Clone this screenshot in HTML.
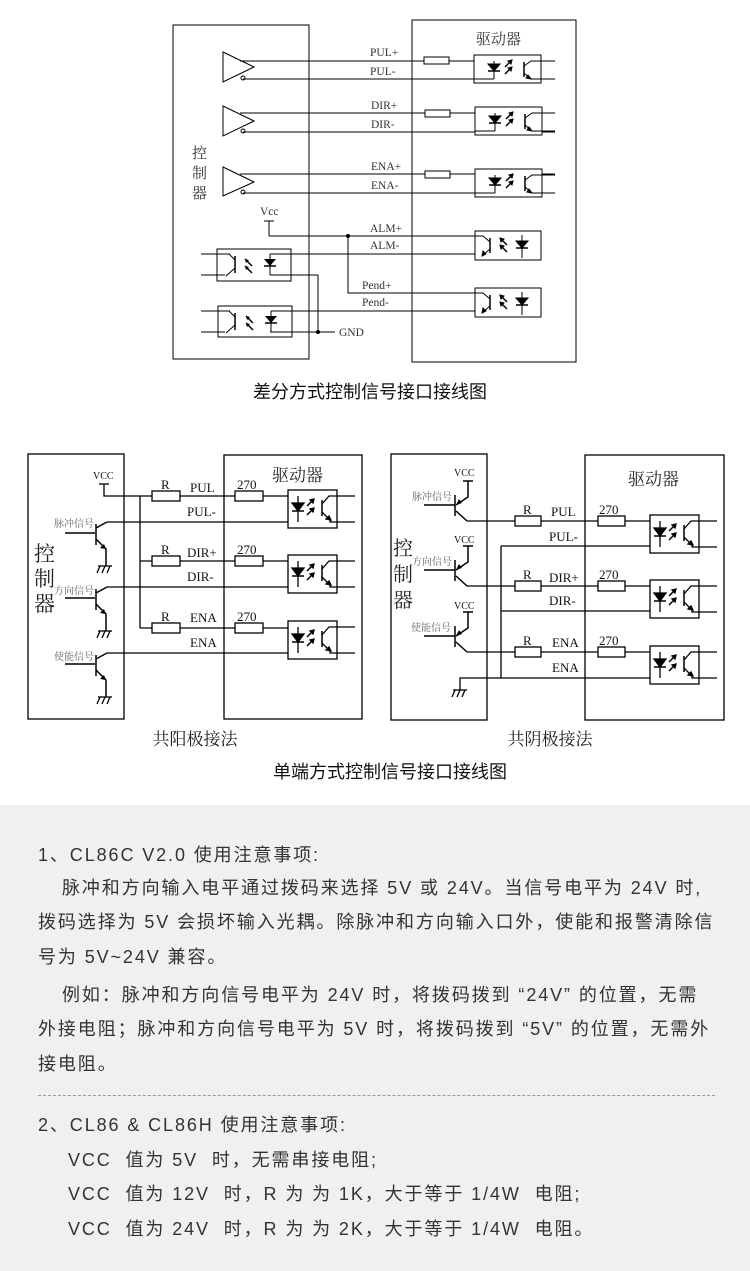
<!DOCTYPE html>
<html><head><meta charset="utf-8">
<style>
html,body{margin:0;padding:0;background:#fff;}
body{width:750px;height:1271px;position:relative;overflow:hidden;font-family:"Liberation Sans","Noto Sans CJK SC",sans-serif;}
svg{position:absolute;left:0;top:0;}
.t{position:absolute;font-size:18px;color:#333;white-space:nowrap;line-height:24px;letter-spacing:1.9px;font-family:"Liberation Sans","Noto Sans CJK SC",sans-serif;}
</style></head><body>
<svg width="750" height="805" viewBox="0 0 750 805">
<defs>
<g id="arr"><line x1="0" y1="8" x2="7" y2="1" stroke="#000" stroke-width="1.5"/><path d="M7,1 l-4,1 l3,3z" fill="#000"/></g>
<g id="arrL"><line x1="7" y1="8" x2="0" y2="1" stroke="#000" stroke-width="1.5"/><path d="M0,1 l4,1 l-3,3z" fill="#000"/></g>
<g id="optA" fill="none" stroke="#000" stroke-width="1">
<rect x="0" y="0" width="67" height="28"/>
<line x1="20" y1="6" x2="20" y2="24"/><line x1="0" y1="24" x2="20" y2="24"/>
<path d="M14,9 L26,9 L20,16z" fill="#000"/><line x1="14" y1="16" x2="26" y2="16" stroke-width="1.5"/>
<use href="#arr" x="31" y="4"/><use href="#arr" x="31" y="11"/>
<line x1="50" y1="7" x2="50" y2="22" stroke-width="1.5"/>
<path d="M50,11 L57,6 L80,6"/><path d="M50,18 L57,24 L80,24"/><path d="M57,24 l-5,-1 l2,-3z" fill="#000"/>
</g>
<g id="optB" fill="none" stroke="#000" stroke-width="1">
<rect x="0" y="0" width="66" height="29"/>
<line x1="15" y1="7" x2="15" y2="22" stroke-width="1.5"/>
<path d="M15,11 L8,5 L0,5"/><path d="M15,18 L8,24"/><path d="M7,25 l1,-5 l3,3z" fill="#000"/>
<use href="#arrL" x="25" y="6"/><use href="#arrL" x="25" y="13"/>
<line x1="47" y1="4" x2="47" y2="27"/>
<path d="M41,10 L53,10 L47,17z" fill="#000"/><line x1="41" y1="17" x2="53" y2="17" stroke-width="1.5"/>
</g>
<g id="optC" fill="none" stroke="#000" stroke-width="1.3">
<rect x="0" y="0" width="49" height="38"/>
<line x1="10" y1="6" x2="10" y2="32"/>
<path d="M4,13 L16,13 L10,21z" fill="#000"/><line x1="4" y1="21" x2="16" y2="21" stroke-width="1.5"/>
<use href="#arr" x="19" y="8"/><use href="#arr" x="19" y="17"/>
<line x1="34" y1="10" x2="34" y2="26" stroke-width="1.5"/>
<path d="M34,14 L41,6 L67,6"/><path d="M34,22 L42,30 L42,32 L67,32"/><path d="M43,30 l-5,-1 l3,-3z" fill="#000"/>
</g>
<g id="gnd" stroke="#000" stroke-width="1.3" fill="none"><line x1="-7" y1="0" x2="7" y2="0"/><line x1="-5" y1="0" x2="-8" y2="7"/><line x1="0" y1="0" x2="-3" y2="7"/><line x1="5" y1="0" x2="2" y2="7"/></g>
</defs>

<g fill="none" stroke="#000" stroke-width="1">
<rect x="173" y="25" width="136" height="334"/>
<rect x="412" y="20" width="164" height="342"/>
</g>
<g font-family="Liberation Serif,serif" font-size="12" fill="#333">
<text x="476" y="44" font-size="15" font-family="Liberation Serif,Noto Serif CJK SC,serif">驱动器</text>
<text x="192" y="158" font-size="15" font-family="Liberation Serif,Noto Serif CJK SC,serif">控</text>
<text x="192" y="178" font-size="15" font-family="Liberation Serif,Noto Serif CJK SC,serif">制</text>
<text x="192" y="198" font-size="15" font-family="Liberation Serif,Noto Serif CJK SC,serif">器</text>
</g>
<g fill="none" stroke="#000" stroke-width="1">
<path d="M223,52 L254,67 L223,82z"/><circle cx="243" cy="78" r="2"/>
<path d="M223,106 L254,121 L223,136z"/><circle cx="243" cy="131" r="2"/>
<path d="M223,167 L254,182 L223,196z"/><circle cx="243" cy="192" r="2"/>
<line x1="240" y1="61" x2="424" y2="61"/><line x1="449" y1="61" x2="474" y2="61"/><line x1="243" y1="79" x2="474" y2="79"/>
<line x1="240" y1="113" x2="425" y2="113"/><line x1="450" y1="113" x2="475" y2="113"/><line x1="243" y1="132" x2="475" y2="132"/>
<line x1="240" y1="174" x2="425" y2="174"/><line x1="450" y1="174" x2="475" y2="174"/><line x1="243" y1="193" x2="475" y2="193"/>
<rect x="424" y="57" width="25" height="7"/><rect x="425" y="110" width="25" height="7"/><rect x="425" y="171" width="25" height="7"/>
<line x1="541" y1="61" x2="555" y2="61"/><line x1="541" y1="79" x2="555" y2="79"/>
<line x1="542" y1="113" x2="555" y2="113"/><line x1="542" y1="132" x2="555" y2="132"/>
<line x1="542" y1="174" x2="555" y2="174"/><line x1="542" y1="193" x2="555" y2="193"/>
<line x1="264" y1="221" x2="274" y2="221"/><line x1="269" y1="221" x2="269" y2="236"/>
<line x1="269" y1="236" x2="475" y2="236"/>
<path d="M348,236 L348,293 L475,293"/>
<line x1="270" y1="254" x2="475" y2="254"/>
<line x1="271" y1="311" x2="475" y2="311"/>
<line x1="201" y1="254" x2="230" y2="254"/><line x1="201" y1="275" x2="225" y2="275"/>
<line x1="201" y1="311" x2="230" y2="311"/><line x1="201" y1="332" x2="225" y2="332"/>
<path d="M270,275 L318,275 L318,332 L335,332"/><line x1="270" y1="332" x2="318" y2="332"/>
</g>
<circle cx="348" cy="236" r="2" fill="#000"/><circle cx="318" cy="332" r="2" fill="#000"/>
<use href="#optA" x="474" y="55"/><use href="#optA" x="475" y="107"/><use href="#optA" x="475" y="169"/>
<use href="#optB" x="475" y="231"/><use href="#optB" x="475" y="288"/>
<g fill="none" stroke="#000" stroke-width="1">
<rect x="217" y="249" width="74" height="32"/><rect x="218" y="306" width="74" height="31"/>
<line x1="235" y1="256" x2="235" y2="273" stroke-width="1.5"/><line x1="235" y1="313" x2="235" y2="330" stroke-width="1.5"/>
<path d="M235,260 L229,254"/><path d="M235,268 L226,276"/>
<path d="M235,317 L229,311"/><path d="M235,325 L226,333"/>
<line x1="270" y1="254" x2="270" y2="275"/><line x1="271" y1="311" x2="271" y2="332"/>
</g>
<path d="M264,259 L276,259 L270,266z M265,316 L277,316 L271,323z" fill="#000"/>
<line x1="264" y1="266" x2="276" y2="266" stroke="#000" stroke-width="1.5"/><line x1="265" y1="323" x2="277" y2="323" stroke="#000" stroke-width="1.5"/>
<use href="#arrL" x="245" y="258"/><use href="#arrL" x="245" y="265"/><use href="#arrL" x="246" y="315"/><use href="#arrL" x="246" y="322"/>
<g font-family="Liberation Serif,serif" font-size="11.5" fill="#333">
<text x="370" y="56">PUL+</text><text x="370" y="75">PUL-</text>
<text x="371" y="109">DIR+</text><text x="371" y="128">DIR-</text>
<text x="371" y="170">ENA+</text><text x="371" y="189">ENA-</text>
<text x="260" y="215">Vcc</text>
<text x="370" y="232">ALM+</text><text x="370" y="249">ALM-</text>
<text x="362" y="289">Pend+</text><text x="362" y="306">Pend-</text>
<text x="339" y="336">GND</text>
</g>
<text x="370" y="398" text-anchor="middle" font-size="18" fill="#111" font-family="Liberation Sans,Noto Sans CJK SC,sans-serif">差分方式控制信号接口接线图</text>

<g fill="none" stroke="#000" stroke-width="1.3">
<rect x="28" y="454" width="96" height="265"/>
<rect x="224" y="455" width="138" height="264"/>
<line x1="99" y1="484" x2="109" y2="484"/><path d="M104,484 L104,496 L288,496"/>
<line x1="140" y1="496" x2="140" y2="628"/>
<line x1="140" y1="561" x2="288" y2="561"/><line x1="140" y1="628" x2="288" y2="628"/>
<rect x="152" y="491" width="28" height="10" fill="#fff"/><rect x="152" y="556" width="28" height="10" fill="#fff"/><rect x="152" y="623" width="28" height="10" fill="#fff"/>
<rect x="235" y="491" width="28" height="10" fill="#fff"/><rect x="235" y="556" width="28" height="10" fill="#fff"/><rect x="235" y="623" width="28" height="10" fill="#fff"/>
<path d="M107,522 L288,522"/><path d="M107,587 L288,587"/><path d="M107,653 L288,653"/>
</g>
<g fill="none" stroke="#000" stroke-width="1.5">
<g><line x1="65" y1="533" x2="95" y2="533"/><line x1="96" y1="524" x2="96" y2="545"/><path d="M96,528 L107,522"/><path d="M96,539 L106,549 L106,566"/></g>
<g transform="translate(0,65)"><line x1="65" y1="533" x2="95" y2="533"/><line x1="96" y1="524" x2="96" y2="545"/><path d="M96,528 L107,522"/><path d="M96,539 L106,549 L106,566"/></g>
<g transform="translate(0,131)"><line x1="65" y1="533" x2="95" y2="533"/><line x1="96" y1="524" x2="96" y2="545"/><path d="M96,528 L107,522"/><path d="M96,539 L106,549 L106,566"/></g>
</g>
<path d="M106,549 l-6,-1 l4,-4z M106,614 l-6,-1 l4,-4z M106,680 l-6,-1 l4,-4z" fill="#000"/>
<use href="#gnd" x="105" y="566"/><use href="#gnd" x="105" y="631"/><use href="#gnd" x="105" y="697"/>
<use href="#optC" x="288" y="490"/><use href="#optC" x="288" y="555"/><use href="#optC" x="288" y="621"/>
<g font-family="Liberation Serif,serif" font-size="13" fill="#111">
<text x="93" y="479" font-size="10">VCC</text>
<text x="161" y="489">R</text><text x="161" y="554">R</text><text x="161" y="621">R</text>
<text x="237" y="489">270</text><text x="237" y="554">270</text><text x="237" y="621">270</text>
<text x="190" y="492">PUL</text><text x="187" y="516">PUL-</text>
<text x="187" y="557">DIR+</text><text x="187" y="581">DIR-</text>
<text x="190" y="622">ENA</text><text x="190" y="647">ENA</text>
</g>
<g font-family="Liberation Serif,Noto Serif CJK SC,serif" fill="#222">
<text x="272" y="481" font-size="17">驱动器</text>
<text x="34" y="561" font-size="21">控</text><text x="34" y="586" font-size="21">制</text><text x="34" y="611" font-size="21">器</text>
<g font-size="10" fill="#666"><text x="54" y="527">脉冲信号</text><text x="54" y="594">方向信号</text><text x="54" y="660">使能信号</text></g>
<text x="195" y="745" font-size="17" text-anchor="middle">共阳极接法</text>
<text x="550" y="745" font-size="17" text-anchor="middle">共阴极接法</text>
</g>

<g fill="none" stroke="#000" stroke-width="1.3">
<rect x="391" y="454" width="96" height="266"/>
<rect x="585" y="455" width="139" height="265"/>
<line x1="501" y1="546" x2="501" y2="678"/>
<line x1="501" y1="546" x2="650" y2="546"/><line x1="501" y1="611" x2="650" y2="611"/>
<path d="M460,690 L460,678 L650,678"/>
<line x1="467" y1="521" x2="650" y2="521"/><line x1="467" y1="586" x2="650" y2="586"/><line x1="467" y1="652" x2="650" y2="652"/>
<rect x="515" y="516" width="26" height="10" fill="#fff"/><rect x="515" y="581" width="26" height="10" fill="#fff"/><rect x="515" y="647" width="26" height="10" fill="#fff"/>
<rect x="598" y="516" width="27" height="10" fill="#fff"/><rect x="598" y="581" width="27" height="10" fill="#fff"/><rect x="598" y="647" width="27" height="10" fill="#fff"/>
</g>
<g fill="none" stroke="#000" stroke-width="1.5">
<g><line x1="463" y1="481" x2="473" y2="481"/><path d="M468,481 L468,497 L456,505"/><line x1="455" y1="495" x2="455" y2="516"/><line x1="424" y1="505" x2="455" y2="505"/><path d="M456,511 L467,521"/></g>
<g transform="translate(0,65)"><line x1="463" y1="481" x2="473" y2="481"/><path d="M468,481 L468,497 L456,505"/><line x1="455" y1="495" x2="455" y2="516"/><line x1="424" y1="505" x2="455" y2="505"/><path d="M456,511 L467,521"/></g>
<g transform="translate(0,131)"><line x1="463" y1="481" x2="473" y2="481"/><path d="M468,481 L468,497 L456,505"/><line x1="455" y1="495" x2="455" y2="516"/><line x1="424" y1="505" x2="455" y2="505"/><path d="M456,511 L467,521"/></g>
</g>
<path d="M456,505 l3,-6 l3,4z M456,570 l3,-6 l3,4z M456,636 l3,-6 l3,4z" fill="#000"/>
<use href="#gnd" x="460" y="690"/>
<use href="#optC" x="650" y="515"/><use href="#optC" x="650" y="580"/><use href="#optC" x="650" y="646"/>
<g font-family="Liberation Serif,serif" font-size="13" fill="#111">
<text x="454" y="476" font-size="10">VCC</text><text x="454" y="543" font-size="10">VCC</text><text x="454" y="609" font-size="10">VCC</text>
<text x="523" y="514">R</text><text x="523" y="579">R</text><text x="523" y="645">R</text>
<text x="599" y="514">270</text><text x="599" y="579">270</text><text x="599" y="645">270</text>
<text x="551" y="516">PUL</text><text x="549" y="541">PUL-</text>
<text x="549" y="582">DIR+</text><text x="549" y="605">DIR-</text>
<text x="552" y="647">ENA</text><text x="552" y="672">ENA</text>
</g>
<g font-family="Liberation Serif,Noto Serif CJK SC,serif" fill="#222">
<text x="628" y="485" font-size="17">驱动器</text>
<text x="393" y="555" font-size="20">控</text><text x="393" y="581" font-size="20">制</text><text x="393" y="607" font-size="20">器</text>
<g font-size="10" fill="#666"><text x="412" y="500">脉冲信号</text><text x="412" y="565">方向信号</text><text x="411" y="631">使能信号</text></g>
</g>
<text x="390" y="778" text-anchor="middle" font-size="18" fill="#111" font-family="Liberation Sans,Noto Sans CJK SC,sans-serif">单端方式控制信号接口接线图</text>
</svg>

<div style="position:absolute;left:0;top:805px;width:750px;height:466px;background:#f0f0f0;"></div>
<div class="t" style="left:38px;top:843px;">1、CL86C V2.0 使用注意事项:</div>
<div class="t" style="left:62px;top:876px;">脉冲和方向输入电平通过拨码来选择 5V 或 24V。当信号电平为 24V 时,</div>
<div class="t" style="left:38px;top:910px;">拨码选择为 5V 会损坏输入光耦。除脉冲和方向输入口外，使能和报警清除信</div>
<div class="t" style="left:38px;top:945px;">号为 5V~24V 兼容。</div>
<div class="t" style="left:62px;top:983px;">例如：脉冲和方向信号电平为 24V 时，将拨码拨到 “24V” 的位置，无需</div>
<div class="t" style="left:38px;top:1017px;">外接电阻；脉冲和方向信号电平为 5V 时，将拨码拨到 “5V” 的位置，无需外</div>
<div class="t" style="left:38px;top:1052px;">接电阻。</div>
<div style="position:absolute;left:38px;top:1095px;width:677px;border-top:1px dashed #999;"></div>
<div class="t" style="left:38px;top:1113px;">2、CL86 &amp; CL86H 使用注意事项:</div>
<div class="t" style="left:68px;top:1148px;">VCC&nbsp; 值为 5V&nbsp; 时，无需串接电阻;</div>
<div class="t" style="left:68px;top:1182px;">VCC&nbsp; 值为 12V&nbsp; 时，R 为 为 1K，大于等于 1/4W&nbsp; 电阻;</div>
<div class="t" style="left:68px;top:1217px;">VCC&nbsp; 值为 24V&nbsp; 时，R 为 为 2K，大于等于 1/4W&nbsp; 电阻。</div>
</body></html>
